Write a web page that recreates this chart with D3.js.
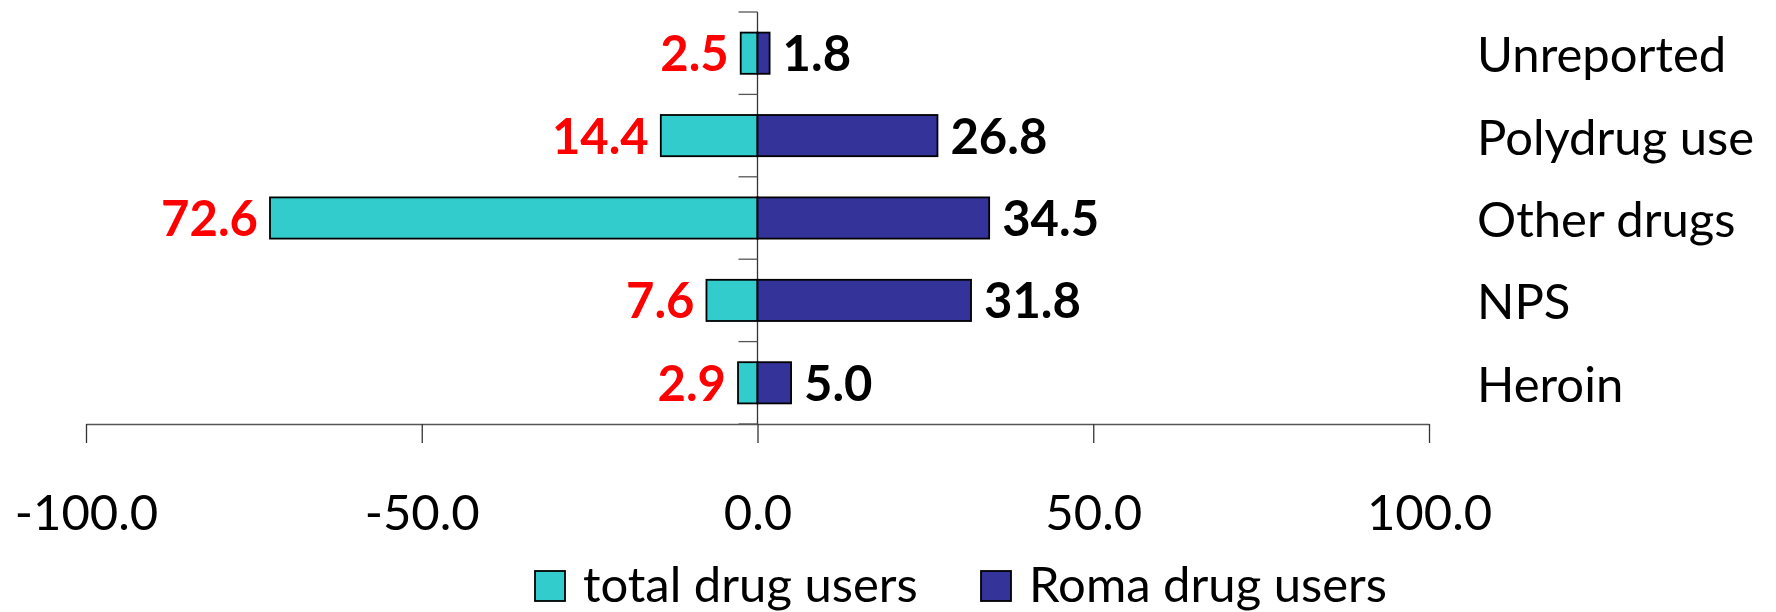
<!DOCTYPE html>
<html>
<head>
<meta charset="utf-8">
<script src="https://cdn.jsdelivr.net/npm/d3@7"></script>
<style>
  html, body { margin: 0; padding: 0; background: #fff; }
  svg text { font-family: Lato, "Open Sans", sans-serif; }
</style>
</head>
<body>
<svg id="chart"></svg>
<script>
// data, top to bottom
const categories = ["Unreported", "Polydrug use", "Other drugs", "NPS", "Heroin"];
const totalUsers = [2.5, 14.4, 72.6, 7.6, 2.9];
const romaUsers = [1.8, 26.8, 34.5, 31.8, 5.0];
const xTicks = [-100, -50, 0, 50, 100];
const seriesNames = ["total drug users", "Roma drug users"];

const width = 1776, height = 612;
const fontSize = 49;

const svg = d3.select("#chart")
    .attr("width", width)
    .attr("height", height);

const x = d3.scaleLinear().domain([-100, 100]).range([86, 1429]);
const y = d3.scaleBand().domain(categories).range([12, 424]).paddingInner(0.5).paddingOuter(0.25);

const colors = { total: "#33CCCC", roma: "#333399" };

// x axis
const xAxis = d3.axisBottom(x)
    .tickValues(xTicks)
    .tickSize(19)
    .tickSizeOuter(0)
    .tickFormat(d3.format(".1f"));

const gx = svg.append("g")
    .attr("transform", "translate(0," + y.range()[1] + ")")
    .call(xAxis);
gx.select(".domain").attr("stroke", "#555").attr("stroke-width", 1.3);
gx.selectAll(".tick line").attr("stroke", "#333").attr("stroke-width", 1.3);
gx.selectAll(".tick text")
    .attr("y", 106)
    .attr("dy", null)
    .attr("fill", "#000")
    .style("font-size", fontSize + "px")
    .text(d => d3.format(".1f")(d).replace("−", "-"));

// vertical axis at zero with ticks on category boundaries
const step = y.step();
const y0 = y.range()[0];
svg.append("line")
    .attr("x1", x(0)).attr("x2", x(0))
    .attr("y1", y0).attr("y2", y.range()[1])
    .attr("stroke", "#333").attr("stroke-width", 1.3);
svg.selectAll(".ytick")
    .data(d3.range(categories.length + 1))
    .join("line")
    .attr("class", "ytick")
    .attr("x1", x(0) - 19).attr("x2", x(0))
    .attr("y1", i => y0 + i * step).attr("y2", i => y0 + i * step)
    .attr("stroke", "#555").attr("stroke-width", 1.3);

// bars
const rows = categories.map((c, i) => ({ cat: c, total: totalUsers[i], roma: romaUsers[i] }));

svg.selectAll(".bar-total")
    .data(rows)
    .join("rect")
    .attr("class", "bar-total")
    .attr("x", d => x(-d.total))
    .attr("y", d => y(d.cat))
    .attr("width", d => x(0) - x(-d.total))
    .attr("height", y.bandwidth())
    .attr("fill", colors.total)
    .attr("stroke", "#000").attr("stroke-width", 1.8);

svg.selectAll(".bar-roma")
    .data(rows)
    .join("rect")
    .attr("class", "bar-roma")
    .attr("x", x(0))
    .attr("y", d => y(d.cat))
    .attr("width", d => x(d.roma) - x(0))
    .attr("height", y.bandwidth())
    .attr("fill", colors.roma)
    .attr("stroke", "#000").attr("stroke-width", 1.8);

// value labels
const mid = d => y(d.cat) + y.bandwidth() / 2 + 18;

svg.selectAll(".lbl-total")
    .data(rows)
    .join("text")
    .attr("class", "lbl-total")
    .attr("x", d => x(-d.total) - 12)
    .attr("y", mid)
    .attr("text-anchor", "end")
    .attr("fill", "#FF0000")
    .style("font-size", fontSize + "px")
    .style("font-weight", "bold")
    .text(d => d3.format(".1f")(d.total));

svg.selectAll(".lbl-roma")
    .data(rows)
    .join("text")
    .attr("class", "lbl-roma")
    .attr("x", d => x(d.roma) + 13)
    .attr("y", mid)
    .attr("fill", "#000")
    .style("font-size", fontSize + "px")
    .style("font-weight", "bold")
    .text(d => d3.format(".1f")(d.roma));

// category names on the right
svg.selectAll(".cat")
    .data(rows)
    .join("text")
    .attr("class", "cat")
    .attr("x", 1477)
    .attr("y", d => y(d.cat) + y.bandwidth() / 2 + 19)
    .attr("fill", "#000")
    .style("font-size", fontSize + "px")
    .text(d => d.cat);

// legend
const legendX = [535, 981];
const legendColors = [colors.total, colors.roma];
const legend = svg.selectAll(".legend")
    .data(seriesNames)
    .join("g")
    .attr("class", "legend")
    .attr("transform", (d, i) => "translate(" + legendX[i] + ",571)");
legend.append("rect")
    .attr("width", 30).attr("height", 30)
    .attr("fill", (d, i) => legendColors[i])
    .attr("stroke", "#000").attr("stroke-width", 1.8);
legend.append("text")
    .attr("x", 48)
    .attr("y", 31)
    .attr("fill", "#000")
    .style("font-size", fontSize + "px")
    .text(d => d);
</script>
</body>
</html>
